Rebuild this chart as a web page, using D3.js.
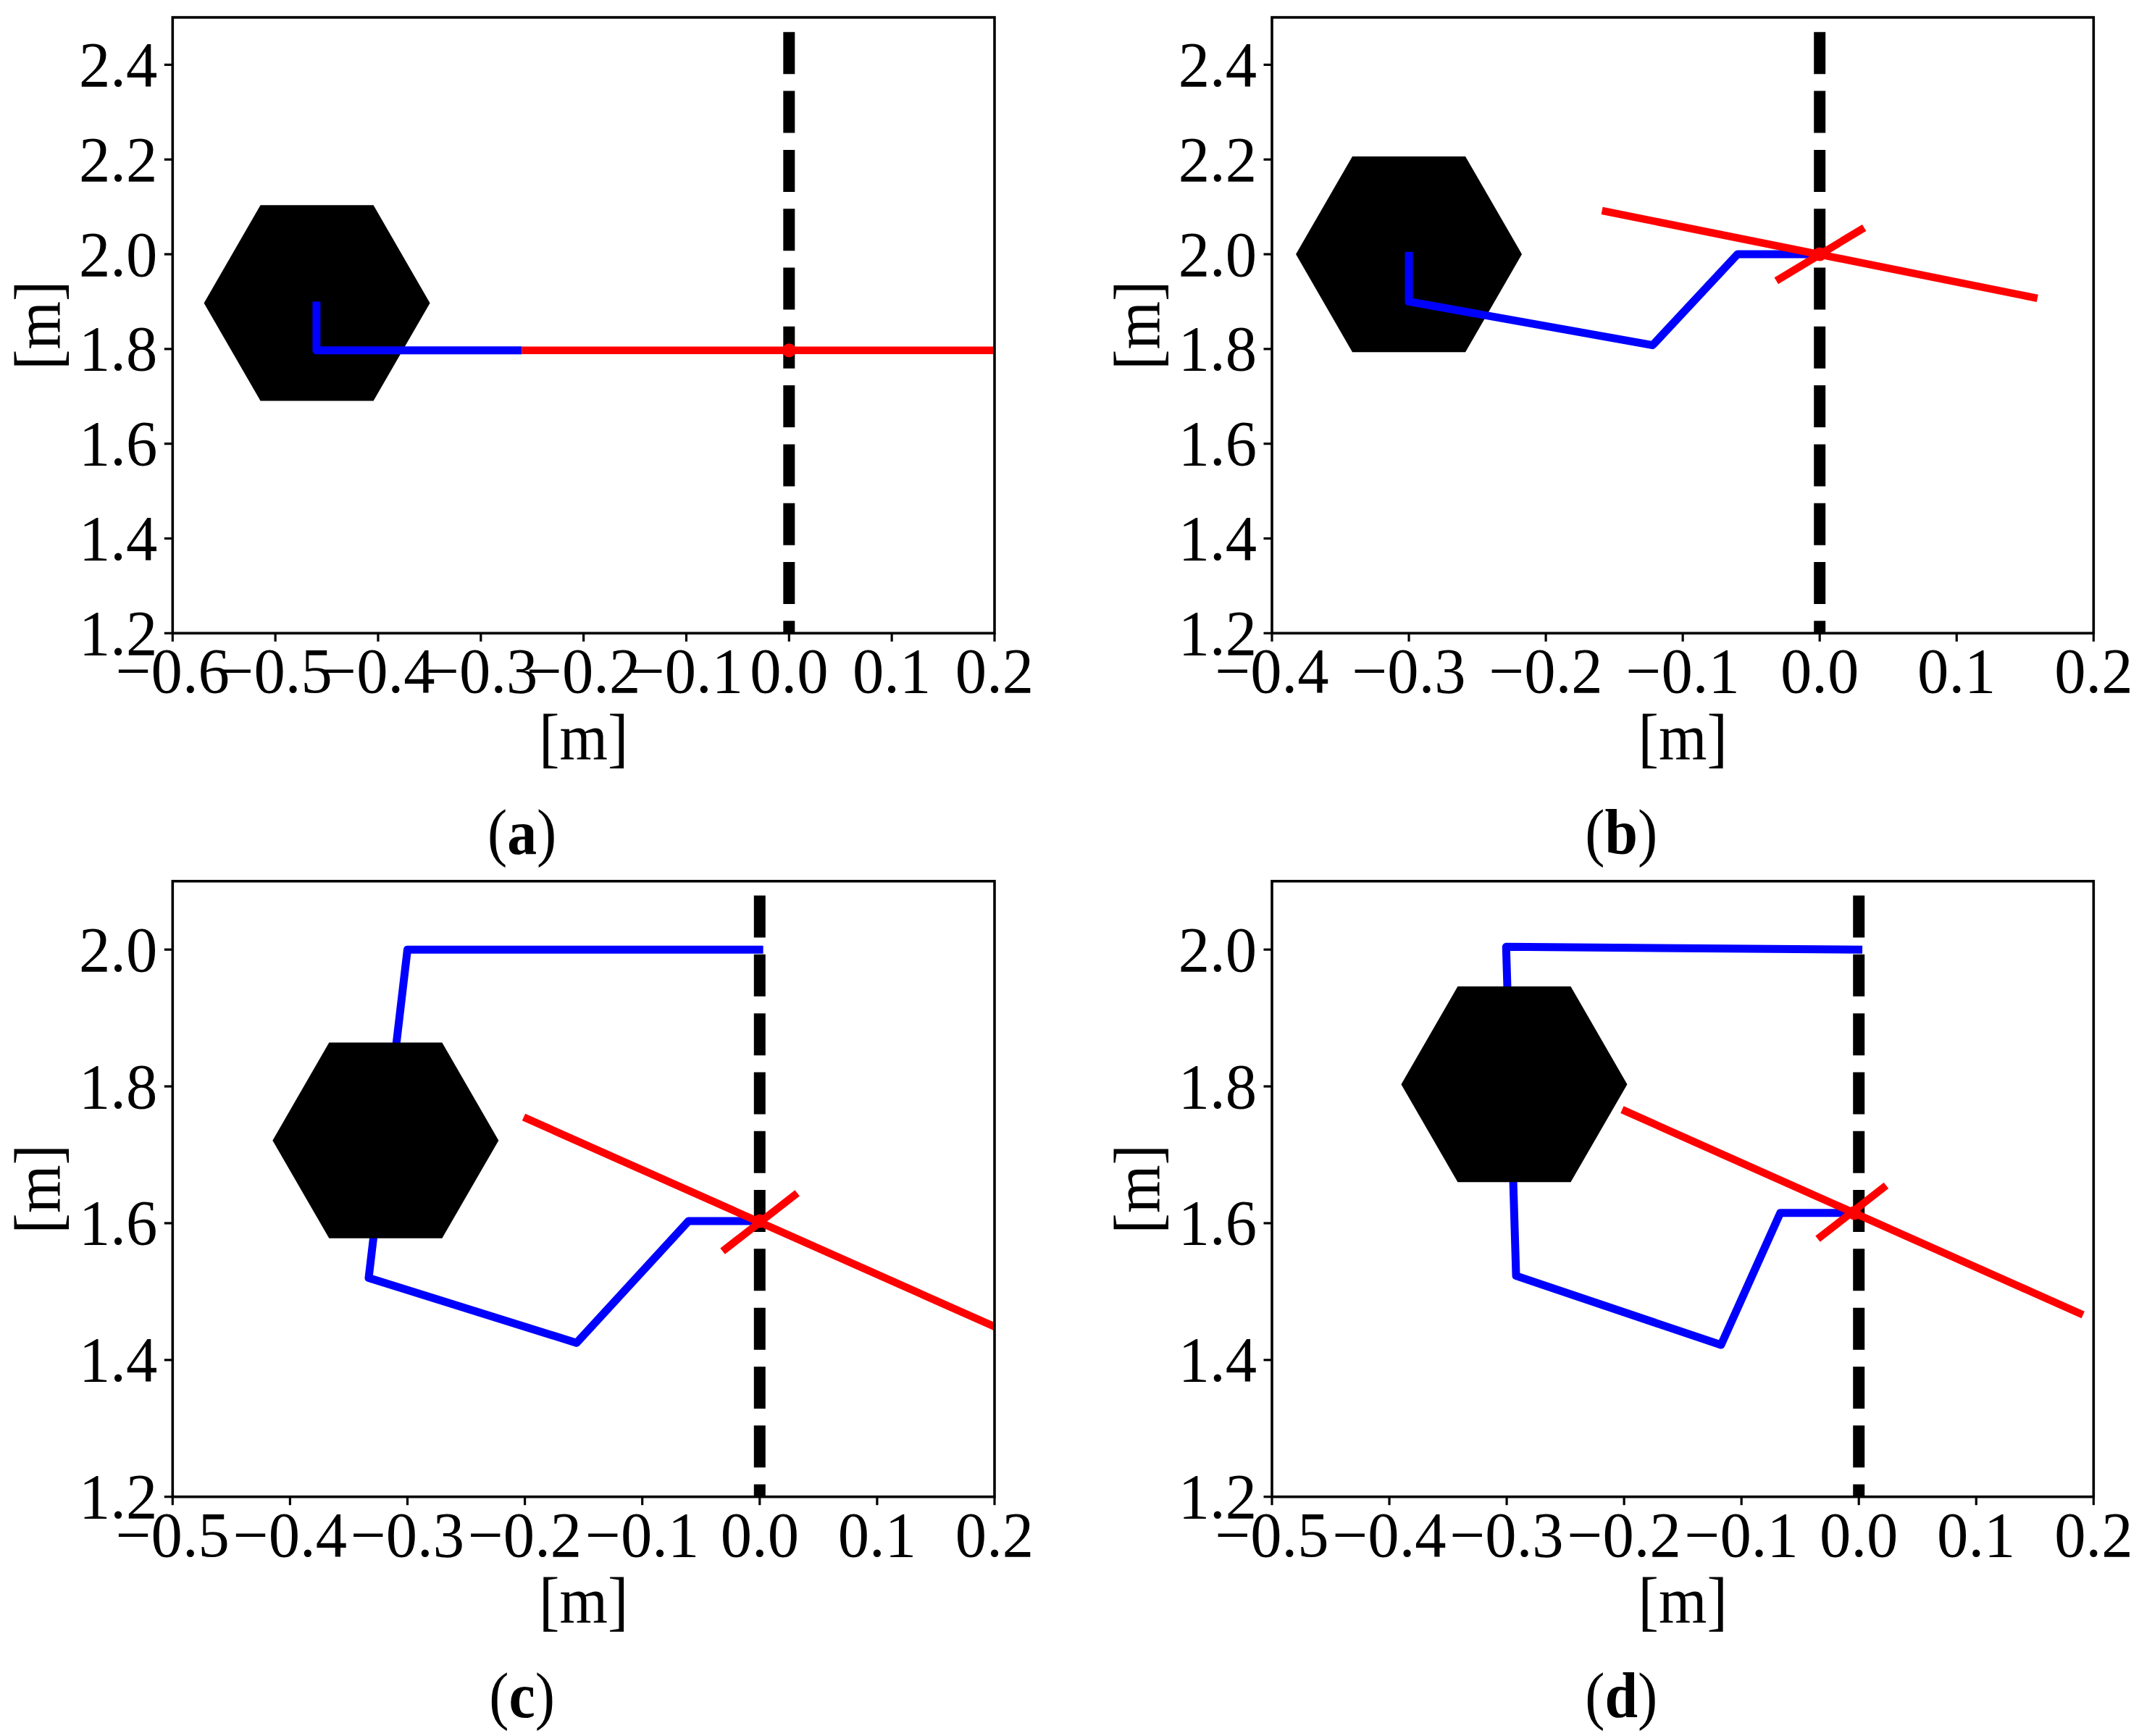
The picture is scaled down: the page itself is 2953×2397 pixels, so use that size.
<!DOCTYPE html>
<html><head><meta charset="utf-8">
<style>html,body{margin:0;padding:0;background:#fff}svg{display:block}text{font-family:"Liberation Serif","Times New Roman",serif;fill:#000}</style>
<script src="https://cdn.jsdelivr.net/npm/d3@7/dist/d3.min.js"></script>
</head><body>
<script>
// ---- data (metres) ----
const captionLetters = ["a","b","c","d"];
const axisLabelText = "[m]";

const xDomainA = [-0.6, 0.2], xDomainB = [-0.4, 0.2], xDomainC = [-0.5, 0.2], xDomainD = [-0.5, 0.2];
const yDomainAB = [1.2, 2.5], yDomainCD = [1.2, 2.1];

const xTicksA = [-0.6,-0.5,-0.4,-0.3,-0.2,-0.1,0,0.1,0.2];
const xTicksB = [-0.4,-0.3,-0.2,-0.1,0,0.1,0.2];
const xTicksCD = [-0.5,-0.4,-0.3,-0.2,-0.1,0,0.1,0.2];
const yTicksAB = [1.2,1.4,1.6,1.8,2.0,2.2,2.4];
const yTicksCD = [1.2,1.4,1.6,1.8,2.0];

const obstacleA = [-0.4595, 1.897];
const obstacleB = [-0.300, 2.000];
const obstacleC = [-0.3186, 1.721];
const obstacleD = [-0.2936, 1.803];

const bluePathA = [[-0.46,1.9],[-0.46,1.797],[-0.26,1.797]];
const bluePathB = [[-0.30,2.005],[-0.30,1.90],[-0.122,1.808],[-0.06,2.0],[0,2.0]];
const bluePathC = [[0.003,2.0],[-0.30,2.0],[-0.333,1.52],[-0.156,1.425],[-0.0606,1.603],[0,1.603]];
const bluePathD = [[0.003,2.0],[-0.3005,2.004],[-0.292,1.523],[-0.1174,1.422],[-0.0669,1.615],[-0.004,1.615]];

const redLongA = [[-0.26,1.797],[0.2,1.797]];
const redLongB = [[-0.159,2.092],[0.159,1.907]];
const redLongC = [[-0.201,1.755],[0.205,1.445]];
const redLongD = [[-0.2017,1.766],[0.191,1.466]];

const redShortA = [];
const redShortB = [[-0.0317,1.944],[0.0325,2.056]];
const redShortC = [[-0.0316,1.559],[0.032,1.644]];
const redShortD = [[-0.035,1.577],[0.0233,1.655]];

const redDotA = [0,1.797];
const redDotB = [0,2.0];
const redDotC = [0,1.603];
const redDotD = [-0.004,1.615];

const dashTopAB = 2.469, dashTopCD = 2.079, dashBottom = 1.2;

// ---- layout ----
const W = 2953, H = 2397;
const boxX = [[238.3,1373],[1756,2890.3]];
const boxY = [[24,874.3],[1216.7,2066.7]];
const FS = 88, HEX_R = 156;

const panels = [
 {col:0,row:0,xd:xDomainA,yd:yDomainAB,xt:xTicksA,yt:yTicksAB,hex:obstacleA,blue:bluePathA,long:redLongA,short:redShortA,dot:redDotA,dashTop:dashTopAB,hexAbove:false},
 {col:1,row:0,xd:xDomainB,yd:yDomainAB,xt:xTicksB,yt:yTicksAB,hex:obstacleB,blue:bluePathB,long:redLongB,short:redShortB,dot:redDotB,dashTop:dashTopAB,hexAbove:false},
 {col:0,row:1,xd:xDomainC,yd:yDomainCD,xt:xTicksCD,yt:yTicksCD,hex:obstacleC,blue:bluePathC,long:redLongC,short:redShortC,dot:redDotC,dashTop:dashTopCD,hexAbove:true},
 {col:1,row:1,xd:xDomainD,yd:yDomainCD,xt:xTicksCD,yt:yTicksCD,hex:obstacleD,blue:bluePathD,long:redLongD,short:redShortD,dot:redDotD,dashTop:dashTopCD,hexAbove:true}
];

const svg = d3.select("body").append("svg").attr("width",W).attr("height",H).attr("viewBox",[0,0,W,H]);
svg.append("rect").attr("width",W).attr("height",H).attr("fill","#fff");
const fmt = d3.format(".1f");

panels.forEach((p,i)=>{
  const [x0,x1]=boxX[p.col],[y0,y1]=boxY[p.row];
  const x=d3.scaleLinear().domain(p.xd).range([x0,x1]);
  const y=d3.scaleLinear().domain(p.yd).range([y1,y0]);
  const g=svg.append("g");
  const clipId="clip"+i;
  g.append("clipPath").attr("id",clipId).append("rect").attr("x",x0).attr("y",y0).attr("width",x1-x0).attr("height",y1-y0);
  const plot=g.append("g").attr("clip-path",`url(#${clipId})`);
  const line=d3.line().x(d=>x(d[0])).y(d=>y(d[1]));

  const drawHex=()=>{
    const c=[x(p.hex[0]),y(p.hex[1])];
    const pts=d3.range(6).map(k=>[c[0]+HEX_R*Math.cos(k*Math.PI/3),c[1]+HEX_R*Math.sin(k*Math.PI/3)]);
    plot.append("path").attr("d",d3.line()(pts)+"Z").attr("fill","#000");
  };
  const drawBlue=()=>plot.append("path").attr("d",line(p.blue)).attr("fill","none")
      .attr("stroke","#0000ff").attr("stroke-width",11).attr("stroke-linejoin","round");

  plot.append("path").attr("d",line([[0,p.dashTop],[0,dashBottom]])).attr("fill","none")
      .attr("stroke","#000").attr("stroke-width",16).attr("stroke-dasharray","58 23.3");
  if(p.hexAbove){drawBlue();drawHex();}else{drawHex();drawBlue();}
  [p.long,p.short].filter(s=>s.length).forEach(s=>
    plot.append("path").attr("d",line(s)).attr("fill","none").attr("stroke","#ff0000").attr("stroke-width",10.5));
  plot.append("circle").attr("cx",x(p.dot[0])).attr("cy",y(p.dot[1])).attr("r",9.5).attr("fill","#ff0000");

  // frame
  g.append("rect").attr("x",x0).attr("y",y0).attr("width",x1-x0).attr("height",y1-y0)
    .attr("fill","none").attr("stroke","#000").attr("stroke-width",3.6);

  // axes
  const ax=g.append("g").attr("transform",`translate(0,${y1})`)
    .call(d3.axisBottom(x).tickValues(p.xt).tickFormat(fmt).tickSize(11.5).tickSizeOuter(0).tickPadding(0).offset(0));
  ax.select(".domain").remove();
  ax.selectAll("line").attr("stroke","#000").attr("stroke-width",3.2);
  ax.selectAll("text").attr("font-size",FS).attr("dy",null).attr("y",null).attr("transform","translate(0,82) scale(0.985,1)").attr("text-anchor","middle").attr("fill","#000");

  const ay=g.append("g").attr("transform",`translate(${x0},0)`)
    .call(d3.axisLeft(y).tickValues(p.yt).tickFormat(fmt).tickSize(11.5).tickSizeOuter(0).tickPadding(0).offset(0));
  ay.select(".domain").remove();
  ay.selectAll("line").attr("stroke","#000").attr("stroke-width",3.2);
  ay.selectAll("text").attr("font-size",FS).attr("dy",null).attr("x",null).attr("transform","translate(-21,29.5) scale(0.985,1)").attr("text-anchor","end").attr("fill","#000");

  // axis labels
  g.append("text").attr("transform",`translate(${(x0+x1)/2},${1049-874.3+y1}) scale(0.95,1)`).attr("text-anchor","middle").attr("font-size",FS+2).text(axisLabelText);
  g.append("text").attr("transform",`translate(${x0-155.5},${(y0+y1)/2}) rotate(-90) scale(0.95,1)`).attr("text-anchor","middle").attr("font-size",FS+2).text(axisLabelText);

  // caption
  const cap=g.append("text").attr("transform",`translate(${(x0+x1)/2-85},${1179-874.3+y1}) scale(0.93,1)`).attr("text-anchor","middle").attr("font-size",FS);
  cap.append("tspan").text("(");
  cap.append("tspan").attr("font-weight","bold").text(captionLetters[i]);
  cap.append("tspan").text(")");
});
</script>
</body></html>
